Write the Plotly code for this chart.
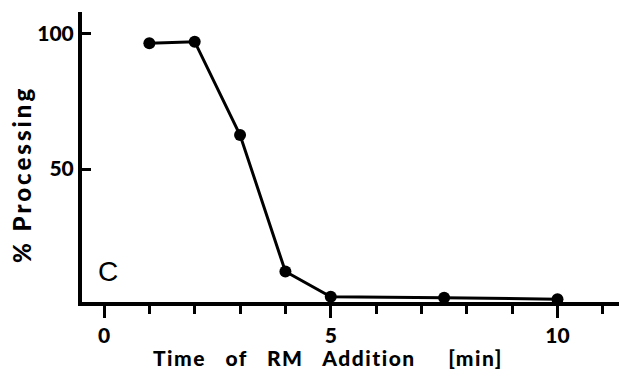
import plotly.graph_objects as go

# Data
time_min = [1, 2, 3, 4, 5, 7.5, 10]
processing_pct = [96.3, 96.9, 62.5, 12.2, 2.9, 2.6, 2.0]

x_tickvals = [0, 5, 10]
x_ticktext = ["0", "5", "10"]
y_tickvals = [50, 100]
y_ticktext = ["50", "100"]

W, H = 619, 377
L, R, T, B = 82, 0, 12, 75
# pixel calibration from reference
x0_px, px_per_x = 104.0, 45.35
y0_px, px_per_y = 304.7, 2.714
plot_bottom_px = H - B
x_range = [(L - x0_px) / px_per_x, (W - R - x0_px) / px_per_x]
y_range = [(y0_px - plot_bottom_px) / px_per_y, (y0_px - T) / px_per_y]

FAM = "Lato, 'Open Sans', sans-serif"
tick_font = dict(family=FAM, size=21, color="black", weight=900)
title_font = dict(family=FAM, size=21, color="black", weight=900)
ylab_font = dict(family=FAM, size=24, color="black", weight=900)

nb = "\u00a0"
x_title_txt = "Time" + nb * 3 + "of" + nb * 3 + "RM" + nb * 3 + "Addition" + nb * 5 + "[min]"
x_title = '<span style="letter-spacing:1.5px">' + x_title_txt + "</span>"
y_title = '<span style="letter-spacing:3px">% Processing</span>'

fig = go.Figure()
fig.add_trace(go.Scatter(
    x=time_min, y=processing_pct, mode="lines+markers",
    line=dict(color="black", width=3),
    marker=dict(color="black", size=12),
    cliponaxis=False, showlegend=False,
))

fig.update_layout(
    width=W, height=H,
    margin=dict(l=L, r=R, t=T, b=B, pad=0),
    paper_bgcolor="white", plot_bgcolor="white",
    xaxis=dict(
        range=x_range, showgrid=False, zeroline=False,
        showline=True, linecolor="black", linewidth=4,
        ticks="outside", ticklen=12, tickwidth=3, tickcolor="black",
        tickvals=x_tickvals, ticktext=x_ticktext,
        tickfont=tick_font,
        minor=dict(tickvals=list(range(0, 12)), ticks="outside", ticklen=8, tickwidth=3, tickcolor="black"),
    ),
    yaxis=dict(
        range=y_range, showgrid=False, zeroline=False,
        showline=True, linecolor="black", linewidth=4,
        ticks="inside", ticklen=9, tickwidth=3, tickcolor="black",
        tickvals=y_tickvals, ticktext=y_ticktext,
        tickfont=tick_font,
    ),
    annotations=[
        dict(text=x_title,
             xref="paper", yref="paper", x=(327.5 - L) / (W - L - R), y=-(357 - (H - B)) / (H - T - B),
             xanchor="center", yanchor="middle", showarrow=False, font=title_font),
        dict(text=y_title, textangle=-90,
             xref="paper", yref="paper", x=-(L - 21) / (W - L - R), y=(H - B - 175) / (H - T - B),
             xanchor="center", yanchor="middle", showarrow=False, font=ylab_font),
        dict(text="C", xref="paper", yref="paper",
             x=(108 - L) / (W - L - R), y=(H - B - 271) / (H - T - B),
             xanchor="center", yanchor="middle", showarrow=False,
             font=dict(family="Liberation Sans, Arial, sans-serif", size=28, color="black")),
    ],
)

fig.write_html("out.html")
